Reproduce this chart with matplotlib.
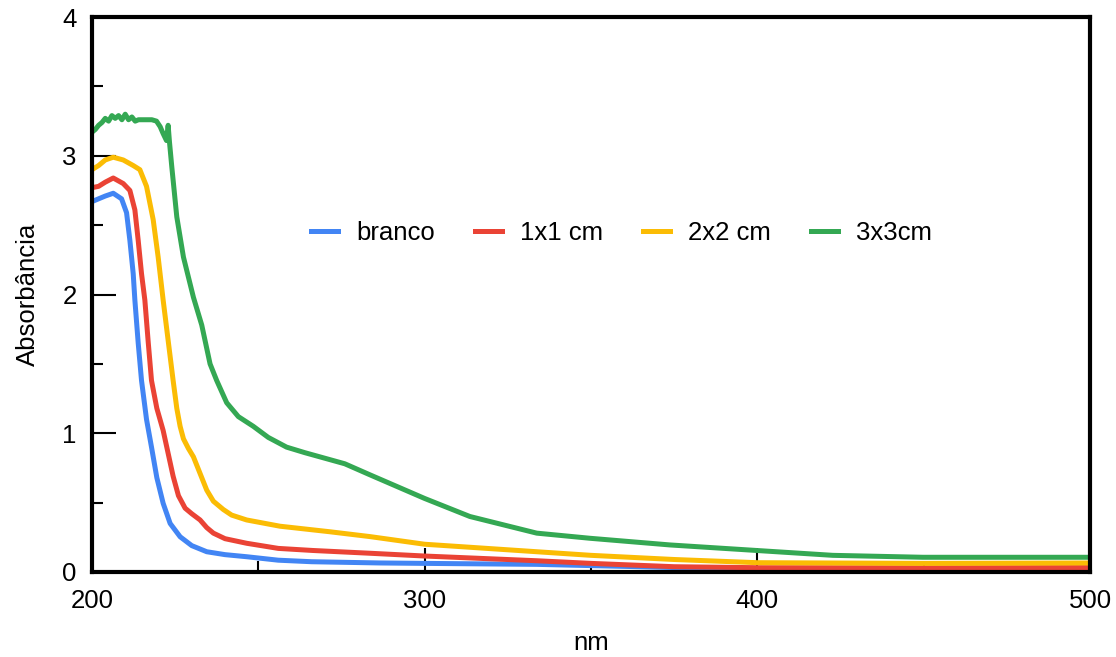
import matplotlib
matplotlib.use('Agg')
import matplotlib.pyplot as plt
from matplotlib.ticker import MultipleLocator

plt.rcParams['font.family'] = ['Liberation Sans', 'DejaVu Sans']

# wavelengths (nm) and absorbance
nm_branco = [200, 202, 204, 206.4, 208.9, 210.4, 211.4, 212.4, 212.9, 213.9, 214.9, 216.4, 217.9, 219.5,
             221.4, 223.5, 226.5, 230, 234.5, 240, 246.5, 256, 266, 286.6, 300, 333.7, 350, 375, 400, 450, 500]
abs_branco = [2.67, 2.69, 2.71, 2.73, 2.69, 2.59, 2.39, 2.15, 1.96, 1.65, 1.38, 1.10, 0.90, 0.68,
              0.495, 0.35, 0.254, 0.19, 0.146, 0.125, 0.11, 0.085, 0.074, 0.065, 0.062, 0.055, 0.046, 0.032,
              0.022, 0.018, 0.018]

nm_1x1 = [200, 202, 204, 206.4, 209.4, 211.4, 212.9, 213.9, 214.9, 215.9, 216.9, 217.9, 219.5, 221.4,
          224.4, 226, 228, 230, 232.5, 234.5, 236.5, 240, 246.5, 256, 266.4, 283.6, 300, 333.7, 350,
          375, 400, 450, 500]
abs_1x1 = [2.77, 2.78, 2.81, 2.84, 2.80, 2.75, 2.61, 2.39, 2.15, 1.96, 1.66, 1.38, 1.18, 1.02,
           0.69, 0.55, 0.46, 0.42, 0.375, 0.32, 0.28, 0.24, 0.207, 0.17, 0.155, 0.135, 0.115, 0.081, 0.062,
           0.038, 0.031, 0.03, 0.032]

nm_2x2 = [200, 202, 204, 206.4, 209.4, 212.4, 214.4, 216.4, 218.4, 219.9, 221.4, 223, 224.4, 225.5,
          226.5, 227.5, 229, 230.5, 232, 234.5, 236.5, 239.5, 242, 246.5, 256.5, 271.5, 283.6, 300,
          333.7, 350, 375, 400, 450, 500]
abs_2x2 = [2.90, 2.93, 2.97, 2.99, 2.97, 2.93, 2.90, 2.78, 2.54, 2.27, 1.96, 1.65, 1.38, 1.18,
           1.05, 0.96, 0.89, 0.83, 0.74, 0.59, 0.51, 0.45, 0.41, 0.375, 0.33, 0.29, 0.255, 0.20,
           0.146, 0.12, 0.09, 0.067, 0.062, 0.065]

nm_3x3 = [200, 201, 202, 203, 204, 205, 206, 207, 208, 209, 210, 211, 212, 213, 214, 216, 218,
          219.4, 220.5, 221.4, 222.4, 222.9, 223.3, 224, 225.5, 227.5, 230.5, 233, 235.5, 237.5,
          240.5, 244, 248.5, 253, 258.5, 264, 271.5, 276, 283.6, 300, 313.6, 333.7, 349.7,
          373.7, 399.8, 422.7, 449.8, 500]
abs_3x3 = [3.17, 3.19, 3.22, 3.24, 3.27, 3.25, 3.29, 3.27, 3.29, 3.26, 3.30, 3.26, 3.28, 3.25, 3.26, 3.26, 3.26,
           3.25, 3.21, 3.16, 3.11, 3.22, 3.10, 2.92, 2.56, 2.27, 1.98, 1.78, 1.50, 1.38,
           1.22, 1.12, 1.05, 0.97, 0.90, 0.86, 0.81, 0.78, 0.70, 0.53, 0.40, 0.28, 0.243,
           0.195, 0.155, 0.12, 0.106, 0.106]

series = [
    ('branco', nm_branco, abs_branco, '#4285F4'),
    ('1x1 cm', nm_1x1, abs_1x1, '#EA4335'),
    ('2x2 cm', nm_2x2, abs_2x2, '#FBBC04'),
    ('3x3cm', nm_3x3, abs_3x3, '#34A853'),
]

fig = plt.figure(figsize=(11.16, 6.57), dpi=100)
ax = fig.add_axes([0.0824, 0.1294, 0.8943, 0.8446])

for name, x, y, c in series:
    ax.plot(x, y, color=c, linewidth=3.6, label=name, solid_joinstyle='round')

ax.set_xlim(200, 500)
ax.set_ylim(0, 4)
ax.xaxis.set_major_locator(MultipleLocator(100))
ax.xaxis.set_minor_locator(MultipleLocator(50))
ax.yaxis.set_major_locator(MultipleLocator(1))
ax.yaxis.set_minor_locator(MultipleLocator(0.5))
ax.tick_params(which='major', direction='in', length=17, width=1.5, labelsize=18.5, colors='black')
ax.tick_params(which='minor', direction='in', length=8, width=1.5)
ax.tick_params(axis='x', which='major', pad=12)
ax.tick_params(axis='y', which='major', pad=11)
for s in ax.spines.values():
    s.set_linewidth(3)

ax.set_xlabel('nm', fontsize=18.5, labelpad=13)
ax.set_ylabel('Absorbância', fontsize=18.5, labelpad=16)

ax.legend(loc='center', bbox_to_anchor=(0.5306, 0.611), ncol=4, frameon=False, fontsize=18.5,
          handlelength=1.05, handletextpad=0.7, columnspacing=1.55)

fig.savefig('out.png', dpi=100)
